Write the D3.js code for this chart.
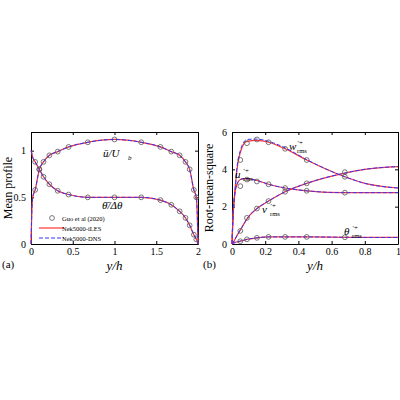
<!DOCTYPE html>
<html><head><meta charset="utf-8">
<script src="https://cdn.jsdelivr.net/npm/d3@7"></script>
<style>body{margin:0;background:#fff}text{font-family:"Liberation Serif",serif}</style>
</head><body><svg id="c" width="400" height="400"></svg>
<script>
// Panel (a) mean profiles
const yA = [0,0.01,0.02,0.05,0.1,0.15,0.22,0.32,0.45,0.68,1.0,1.32,1.55,1.68,1.78,1.85,1.9,1.95,1.98,1.99,2.0];
const uMean = [0,0.35,0.5,0.58,0.8,0.88,0.95,0.99,1.04,1.09,1.12,1.09,1.04,0.99,0.95,0.88,0.8,0.58,0.5,0.35,0];
const thMean = [1,0.97,0.93,0.88,0.8,0.72,0.64,0.57,0.53,0.5,0.5,0.5,0.47,0.42,0.35,0.28,0.2,0.1,0.05,0.03,0];
const yAcirc = [0.05,0.1,0.15,0.22,0.32,0.45,0.68,1.0,1.32,1.55,1.68,1.78,1.85,1.9,1.95,1.98];
const uCirc = [0.58,0.8,0.88,0.95,0.99,1.04,1.09,1.12,1.09,1.04,0.99,0.95,0.88,0.8,0.58,0.5];
const thCirc = [0.88,0.8,0.72,0.64,0.57,0.53,0.5,0.5,0.5,0.47,0.42,0.35,0.28,0.2,0.1,0.05];
// Panel (b) rms
const yB = [0,0.005,0.015,0.03,0.05,0.07,0.09,0.15,0.22,0.32,0.45,0.68,0.8,1.0];
const wRms = [0,1.2,2.5,4.0,4.9,5.35,5.5,5.55,5.45,5.1,4.5,3.6,3.25,3.0];
const wRmsDNS = [0,1.2,2.5,4.1,5.0,5.45,5.6,5.62,5.5,5.15,4.52,3.6,3.25,3.0];
const uRms = [0,1.3,2.6,3.2,3.45,3.5,3.5,3.4,3.2,3.0,2.85,2.75,2.75,2.75];
const vRms = [0,0.05,0.2,0.45,0.75,1.05,1.35,1.9,2.3,2.8,3.25,3.8,4.0,4.15];
const tRms = [0,0.03,0.07,0.11,0.15,0.2,0.25,0.33,0.38,0.38,0.38,0.36,0.35,0.35];
const yBcirc = [0.05,0.09,0.15,0.22,0.32,0.45,0.68];
const wCirc = [4.5,5.4,5.6,5.45,5.1,4.5,3.6];
const uCircB = [3.1,3.45,3.35,3.2,3.0,2.85,2.75];
const vCirc = [0.7,1.4,1.9,2.3,2.8,3.25,3.85];
const tCirc = [0.15,0.25,0.33,0.38,0.38,0.38,0.36];

const svg = d3.select("#c");
function panel(x0,x1,xd,yd,xt,yt,ylab,lab){
  const x=d3.scaleLinear().domain(xd).range([x0,x1]);
  const y=d3.scaleLinear().domain(yd).range([244,132]);
  const g=svg.append("g");
  g.append("g").attr("transform","translate(0,244)").call(d3.axisBottom(x).tickValues(xt).tickSizeInner(-3).tickSizeOuter(0).tickPadding(4).tickFormat(d3.format("")));
  g.append("g").attr("transform","translate(0,132)").call(d3.axisTop(x).tickValues(xt).tickSizeInner(-3).tickSizeOuter(0).tickFormat(""));
  g.append("g").attr("transform",`translate(${x0},0)`).call(d3.axisLeft(y).tickValues(yt).tickSizeInner(-3).tickSizeOuter(0).tickPadding(5).tickFormat(d3.format("")));
  g.append("g").attr("transform",`translate(${x1},0)`).call(d3.axisRight(y).tickValues(yt).tickSizeInner(-3).tickSizeOuter(0).tickFormat(""));
  g.selectAll(".domain").attr("stroke","#000");
  g.selectAll(".tick text").attr("font-size",10).attr("font-family","Liberation Serif").attr("fill","#000");
  g.selectAll(".tick line").attr("stroke","#000");
  svg.append("text").attr("x",(x0+x1)/2).attr("y",270).attr("text-anchor","middle").attr("font-size",13).attr("font-style","italic").text("y/h");
  svg.append("text").attr("transform",`translate(${x0-19},188) rotate(-90)`).attr("text-anchor","middle").attr("font-size",12).text(ylab);
  svg.append("text").attr("x",x0-29).attr("y",268).attr("font-size",11).text(lab);
  return {x,y};
}
const line=(s,xs,ys)=>d3.line().x((d,i)=>s.x(xs[i])).y(d=>s.y(d)).curve(d3.curveMonotoneX)(ys);
function curves(s,xs,ysR,ysB){
  svg.append("path").attr("d",line(s,xs,ysR)).attr("fill","none").attr("stroke","#f33").attr("stroke-width",1.2);
  svg.append("path").attr("d",line(s,xs,ysB)).attr("fill","none").attr("stroke","#33f").attr("stroke-width",1).attr("stroke-dasharray","4,2");
}
function circs(s,xs,ys){
  svg.append("g").selectAll("circle").data(ys).join("circle").attr("cx",(d,i)=>s.x(xs[i])).attr("cy",d=>s.y(d)).attr("r",2.4).attr("fill","none").attr("stroke","#555").attr("stroke-width",0.8);
}
const A=panel(31,198,[0,2],[0,1.2],[0,0.5,1,1.5,2],[0,0.5,1],"Mean profile","(a)");
curves(A,yA,uMean,uMean); curves(A,yA,thMean,thMean);
circs(A,yAcirc,uCirc); circs(A,yAcirc,thCirc);
svg.append("text").attr("x",103).attr("y",157).attr("font-size",11).attr("font-style","italic").text("u\u0304/U");
svg.append("text").attr("x",128).attr("y",160).attr("font-size",7).attr("font-style","italic").text("b");
svg.append("text").attr("x",102).attr("y",209).attr("font-size",11).attr("font-style","italic").text("θ\u0304/Δθ");
// legend
svg.append("circle").attr("cx",52).attr("cy",218).attr("r",2.4).attr("fill","none").attr("stroke","#555").attr("stroke-width",0.8);
svg.append("line").attr("x1",39).attr("x2",64).attr("y1",228).attr("y2",228).attr("stroke","#f33").attr("stroke-width",1.2);
svg.append("line").attr("x1",39).attr("x2",64).attr("y1",238).attr("y2",238).attr("stroke","#33f").attr("stroke-dasharray","4,2");
[["Guo et al (2020)",220.5],["Nek5000-iLES",230.5],["Nek5000-DNS",240.5]].forEach(d=>svg.append("text").attr("x",62).attr("y",d[1]).attr("font-size",6.5).text(d[0]));

const B=panel(232,398,[0,1],[0,6],[0,0.2,0.4,0.6,0.8,1],[0,2,4,6],"Root-mean-square","(b)");
curves(B,yB,wRms,wRmsDNS); curves(B,yB,uRms,uRms); curves(B,yB,vRms,vRms); curves(B,yB,tRms,tRms);
circs(B,yBcirc,wCirc); circs(B,yBcirc,uCircB); circs(B,yBcirc,vCirc); circs(B,yBcirc,tCirc);
function rl(x,y,sym){
  svg.append("text").attr("x",x).attr("y",y).attr("font-size",11).attr("font-style","italic").text(sym);
  svg.append("text").attr("x",x+8).attr("y",y-5).attr("font-size",7).attr("font-style","italic").text("′+");
  svg.append("text").attr("x",x+8).attr("y",y+3).attr("font-size",6.5).text("rms");
}
rl(289,150,"w"); rl(235,178,"u"); rl(262,213,"v"); rl(344,235,"θ");
</script></body></html>
